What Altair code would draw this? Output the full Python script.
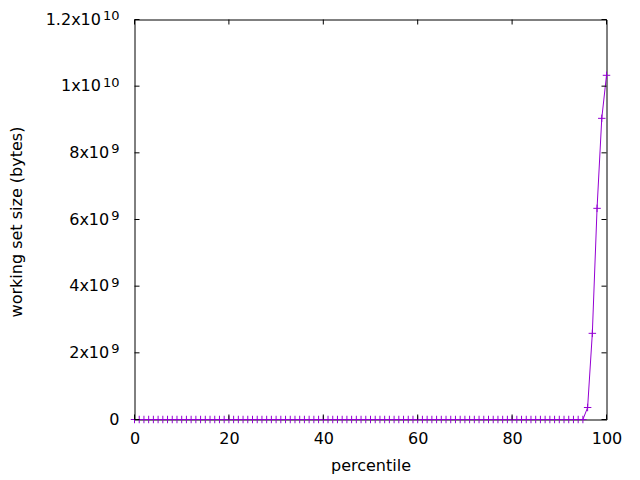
import altair as alt
import pandas as pd

# x positions (percentiles) and working-set sizes
percentile = [
    0, 1, 2, 3, 4, 5, 6, 7, 8, 9, 10, 11, 12, 13, 14, 15, 16, 17, 18, 19,
    20, 21, 22, 23, 24, 25, 26, 27, 28, 29, 30, 31, 32, 33, 34, 35, 36, 37, 38, 39,
    40, 41, 42, 43, 44, 45, 46, 47, 48, 49, 50, 51, 52, 53, 54, 55, 56, 57, 58, 59,
    60, 61, 62, 63, 64, 65, 66, 67, 68, 69, 70, 71, 72, 73, 74, 75, 76, 77, 78, 79,
    80, 81, 82, 83, 84, 85, 86, 87, 88, 89, 90, 91, 92, 93, 94, 95, 96, 97, 98, 99,
    100,
]
working_set = [
    0, 0, 0, 0, 0, 0, 0, 0, 0, 0, 0, 0, 0, 0, 0, 0, 0, 0, 0, 0,
    0, 0, 0, 0, 0, 0, 0, 0, 0, 0, 0, 0, 0, 0, 0, 0, 0, 0, 0, 0,
    0, 0, 0, 0, 0, 0, 0, 0, 0, 0, 0, 0, 0, 0, 0, 0, 0, 0, 0, 0,
    0, 0, 0, 0, 0, 0, 0, 0, 0, 0, 0, 0, 0, 0, 0, 0, 0, 0, 0, 0,
    0, 0, 0, 0, 0, 0, 0, 0, 0, 0, 0, 0, 0, 0, 0, 0, 3.6e8, 2.585e9, 6.335e9, 9.035e9,
    1.0326e10,
]

# y tick values and their labels (mantissa part and superscript exponent)
y_ticks = [0, 2e9, 4e9, 6e9, 8e9, 1e10, 1.2e10]
y_mantissa = ["0", "2x10", "4x10", "6x10", "8x10", "1x10", "1.2x10"]
y_exponent = ["", "9", "9", "9", "9", "10", "10"]
x_ticks = [0, 20, 40, 60, 80, 100]

W, H = 472, 400
TICK = 5
FONT = "DejaVu Sans"
COLOR = "#9400D3"
FS = 16
SUP_FS = 13
LAB_PAD = 15
SUP_GAP = 2
DIGIT_W = 0.636 * SUP_FS

df = pd.DataFrame({"percentile": percentile, "wss": working_set})
ydf = pd.DataFrame({"wss": y_ticks, "mant": y_mantissa, "exp": y_exponent})
ydf["nexp"] = ydf["exp"].str.len()
xdf = pd.DataFrame({"percentile": x_ticks})

xscale = alt.Scale(domain=[0, 100], nice=False, zero=False)
yscale = alt.Scale(domain=[0, 1.2e10], nice=False)

x_axis = alt.Axis(
    values=x_ticks, title="percentile", grid=False, domain=False, ticks=False,
    tickSize=0, labelPadding=11, labelFontSize=FS, labelFont=FONT,
    labelColor="black", titleFontSize=FS, titleFont=FONT, titleColor="black",
    titleFontWeight="normal", titleY=51, titleBaseline="alphabetic",
    labelFlush=False,
)
y_axis = alt.Axis(
    values=y_ticks, title="working set size (bytes)", grid=False, domain=False,
    ticks=False, tickSize=0, labels=False, titleFontSize=FS, titleFont=FONT,
    titleColor="black", titleFontWeight="normal", titleX=-118, titleY=202,
    titleAngle=270, titleAlign="center", titleBaseline="middle",
)


def X():
    return alt.X("percentile:Q", scale=xscale, axis=x_axis)


def Y():
    return alt.Y("wss:Q", scale=yscale, axis=y_axis)


line = alt.Chart(df).mark_line(color=COLOR, strokeWidth=1).encode(x=X(), y=Y())
points = alt.Chart(df).mark_point(
    shape="M-1,0L1,0M0,-1L0,1", size=56, filled=False, color=COLOR,
    strokeWidth=1, opacity=1,
).encode(x=X(), y=Y())

yl = alt.Chart(ydf).mark_rule(color="black", strokeWidth=1).encode(
    y=Y(), x=alt.value(0), x2=alt.value(TICK)
)
yr = alt.Chart(ydf).mark_rule(color="black", strokeWidth=1).encode(
    y=Y(), x=alt.value(W - TICK), x2=alt.value(W)
)
xb = alt.Chart(xdf).mark_rule(color="black", strokeWidth=1).encode(
    x=X(), y=alt.value(H), y2=alt.value(H - TICK)
)
xt = alt.Chart(xdf).mark_rule(color="black", strokeWidth=1).encode(
    x=X(), y=alt.value(0), y2=alt.value(TICK)
)

# y tick labels: mantissa + raised exponent
label_layers = []
for n in [0, 1, 2]:
    off = LAB_PAD + (n * DIGIT_W + SUP_GAP if n else 0)
    label_layers.append(
        alt.Chart(ydf).transform_filter(f"datum.nexp == {n}").mark_text(
            align="right", baseline="middle", font=FONT, fontSize=FS, color="black"
        ).encode(y=Y(), x=alt.value(-off), text="mant:N")
    )
exp_layer = alt.Chart(ydf).transform_filter("datum.nexp > 0").mark_text(
    align="right", baseline="alphabetic", font=FONT, fontSize=SUP_FS, color="black",
    dy=0.5,
).encode(y=Y(), x=alt.value(-LAB_PAD), text="exp:N")

chart = alt.layer(line, points, yl, yr, xb, xt, *label_layers, exp_layer).properties(
    width=W,
    height=H,
    background="white",
    autosize=alt.AutoSizeParams(type="none"),
    padding={"left": 126.5, "top": 11.5, "right": 20, "bottom": 60},
).configure_view(
    stroke="black", strokeWidth=1
)

chart.save("out.html", embed_options={"renderer": "svg", "actions": False})
